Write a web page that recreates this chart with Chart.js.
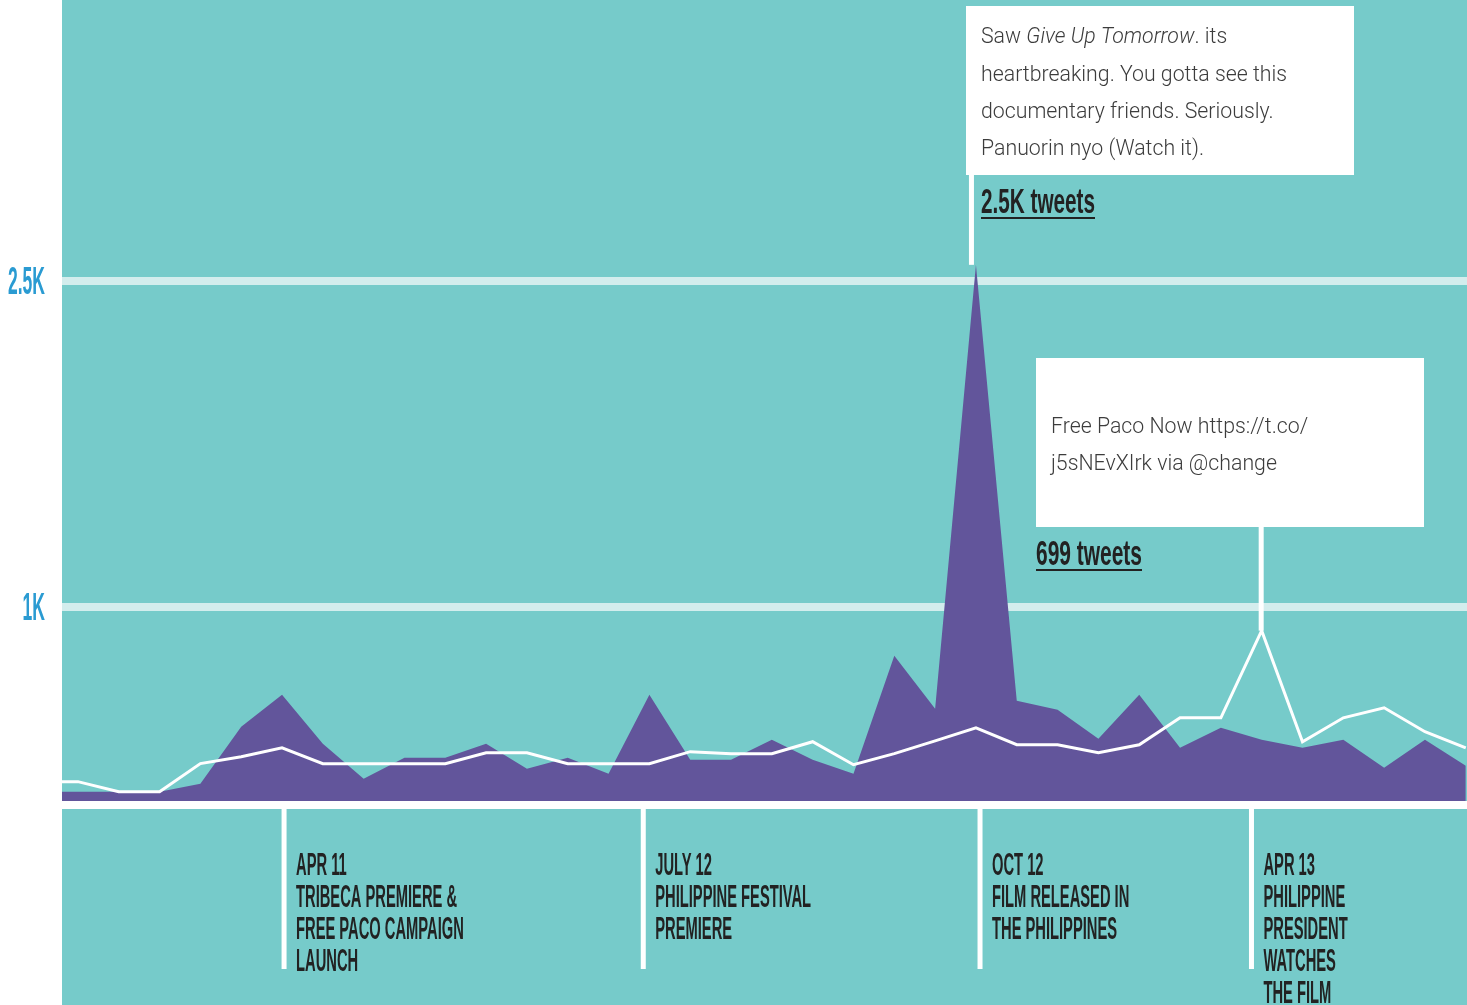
<!DOCTYPE html>
<html lang="en">
<head>
    <meta charset="UTF-8">
    <title>Give Up Tomorrow tweets</title>
    <script src="https://cdn.jsdelivr.net/npm/chart.js@4.4.1/dist/chart.umd.min.js"></script>
    <style>
        body {
            margin: 0;
            background-color: #ffffff;
        }
        canvas {
            display: block;
        }
    </style>
</head>
<body>
    <canvas id="tweetChart" width="1467" height="1005"></canvas>

    <script>
        // periods (index -1 is only partly visible at the left edge)
        const periods = [-1, 0, 1, 2, 3, 4, 5, 6, 7, 8, 9, 10, 11, 12, 13, 14, 15, 16, 17,
                         18, 19, 20, 21, 22, 23, 24, 25, 26, 27, 28, 29, 30, 31, 32, 33, 34];
        const tweets = [149, 149, 149, 149, 185, 448, 595, 370, 208, 305, 305, 370, 254, 305, 231, 595, 296, 296,
                        388, 296, 231, 775, 531, 2574, 567, 526, 393, 595, 351, 443, 388, 351, 388, 259, 388, 268];
        const trend = [195, 195, 149, 149, 278, 310, 351, 278, 278, 278, 278, 328, 328, 278, 278, 278, 333, 324,
                       324, 379, 273, 324, 383, 443, 365, 365, 328, 365, 489, 489, 890, 379, 489, 535, 425, 351];
        const yTicks = [1000, 2500];
        const yTickLabels = ['1K', '2.5K'];

        const events = [
            ['APR 11', 'TRIBECA PREMIERE &', 'FREE PACO CAMPAIGN', 'LAUNCH'],
            ['JULY 12', 'PHILIPPINE FESTIVAL', 'PREMIERE'],
            ['OCT 12', 'FILM RELEASED IN', 'THE PHILIPPINES'],
            ['APR 13', 'PHILIPPINE', 'PRESIDENT', 'WATCHES', 'THE FILM']
        ];
        const eventAt = [5.05, 13.85, 22.1, 28.75];

        const TEAL = '#76cbca';
        const PURPLE = '#62559b';
        const CONDENSED = "'Liberation Sans Narrow', 'Liberation Sans', sans-serif";
        const LIGHT = "Roboto, 'Open Sans', sans-serif";

        // squeeze a condensed-looking string so that refText gets refWidth pixels
        function squeezeFactor(ctx, font, refText, refWidth) {
            ctx.save();
            ctx.font = font;
            const w = ctx.measureText(refText).width;
            ctx.restore();
            return refWidth / w;
        }

        function squeezeText(ctx, text, x, y, font, sx, color, align) {
            ctx.save();
            ctx.font = font;
            ctx.fillStyle = color;
            ctx.textAlign = align || 'left';
            ctx.textBaseline = 'alphabetic';
            ctx.translate(x, y);
            ctx.scale(sx, 1);
            ctx.fillText(text, 0, 0);
            ctx.restore();
        }

        function drawRuns(ctx, runs, x, y) {
            runs.forEach(function(r) {
                ctx.font = r[1];
                ctx.fillText(r[0], x, y);
                x += ctx.measureText(r[0]).width;
            });
        }

        function callout(ctx, box, lines, pointX, pointY, label, labelX, labelY, labelW) {
            // stem from the box down to the point
            ctx.fillStyle = '#ffffff';
            ctx.fillRect(pointX - 3, box.y + box.h - 1, 5, pointY - box.y - box.h + 1);
            ctx.fillRect(box.x, box.y, box.w, box.h);

            ctx.fillStyle = '#3c3c3c';
            ctx.textAlign = 'left';
            ctx.textBaseline = 'alphabetic';
            lines.forEach(function(l) {
                drawRuns(ctx, l.runs, box.x + box.pad, l.y);
            });

            const f = 'bold 35px ' + CONDENSED;
            const sx = squeezeFactor(ctx, f, label, labelW);
            squeezeText(ctx, label, labelX, labelY, f, sx, '#222222');
            ctx.fillStyle = '#222222';
            ctx.fillRect(labelX, labelY + 4, labelW, 2);
        }

        const backdrop = {
            id: 'backdrop',
            beforeDraw(chart) {
                const ctx = chart.ctx;
                const a = chart.chartArea;
                const xs = chart.scales.x;
                ctx.save();
                ctx.fillStyle = '#ffffff';
                ctx.fillRect(0, 0, chart.width, chart.height);
                ctx.fillStyle = TEAL;
                ctx.fillRect(a.left, a.top, a.right - a.left, a.bottom - a.top);
                ctx.fillRect(a.left, a.bottom + 8, a.right - a.left, chart.height - a.bottom - 8);
                ctx.fillStyle = '#ffffff';
                eventAt.forEach(function(v) {
                    const px = xs.getPixelForValue(v);
                    ctx.fillRect(px - 2.5, a.bottom + 8, 5, 160);
                });
                ctx.restore();
            },
            afterDraw(chart) {
                const ctx = chart.ctx;
                const a = chart.chartArea;
                const xs = chart.scales.x;
                const ys = chart.scales.y;
                ctx.save();

                // y tick labels
                const tf = 'bold 38px ' + CONDENSED;
                const tsx = squeezeFactor(ctx, tf, '2.5K', 37);
                yTicks.forEach(function(v, i) {
                    squeezeText(ctx, yTickLabels[i], 45, ys.getPixelForValue(v) + 13, tf, tsx, '#2a9bd2', 'right');
                });

                // event labels under the chart
                const ef = 'bold 32px ' + CONDENSED;
                const esx = squeezeFactor(ctx, ef, 'TRIBECA PREMIERE &', 161);
                events.forEach(function(lines, k) {
                    const px = xs.getPixelForValue(eventAt[k]) + 12;
                    lines.forEach(function(t, j) {
                        squeezeText(ctx, t, px, a.bottom + 74 + j * 32, ef, esx, '#222222');
                    });
                });

                // callout for the tweet peak
                const pk = tweets.indexOf(Math.max.apply(null, tweets));
                const normal = '300 21.3px ' + LIGHT;
                const ital = 'italic 300 21.3px ' + LIGHT;
                callout(ctx, { x: 966, y: 6, w: 388, h: 169, pad: 15 }, [
                    { y: 43, runs: [['Saw ', normal], ['Give Up Tomorrow', ital], ['. its', normal]] },
                    { y: 80.5, runs: [['heartbreaking. You gotta see this', normal]] },
                    { y: 118, runs: [['documentary friends. Seriously.', normal]] },
                    { y: 155, runs: [['Panuorin nyo (Watch it).', normal]] }
                ], xs.getPixelForValue(periods[pk]) - 4, ys.getPixelForValue(tweets[pk]), '2.5K tweets', 981, 213, 114);

                // callout for the trend peak
                const tk = trend.indexOf(Math.max.apply(null, trend));
                callout(ctx, { x: 1036, y: 358, w: 388, h: 169, pad: 15 }, [
                    { y: 433, runs: [['Free Paco Now https://t.co/', normal]] },
                    { y: 470, runs: [['j5sNEvXIrk via @change', normal]] }
                ], xs.getPixelForValue(periods[tk]), ys.getPixelForValue(trend[tk]), '699 tweets', 1036, 565, 106);

                ctx.restore();
            }
        };

        const ctx = document.getElementById('tweetChart').getContext('2d');

        const tweetChart = new Chart(ctx, {
            type: 'line',
            data: {
                datasets: [{
                    label: 'Trend',
                    data: periods.map((p, i) => ({ x: p, y: trend[i] })),
                    borderColor: '#ffffff',
                    borderWidth: 3,
                    pointRadius: 0,
                    fill: false,
                    tension: 0,
                    order: 0
                }, {
                    label: 'Tweets',
                    data: periods.map((p, i) => ({ x: p, y: tweets[i] })),
                    borderWidth: 0,
                    borderColor: PURPLE,
                    backgroundColor: PURPLE,
                    pointRadius: 0,
                    fill: 'start',
                    tension: 0,
                    order: 1
                }]
            },
            options: {
                responsive: false,
                animation: false,
                events: [],
                layout: {
                    padding: { top: 0, right: 0, bottom: 204, left: 0 }
                },
                plugins: {
                    legend: { display: false },
                    tooltip: { enabled: false }
                },
                scales: {
                    x: {
                        type: 'linear',
                        display: false,
                        min: -0.39,
                        max: 34.03
                    },
                    y: {
                        type: 'linear',
                        min: 106,
                        max: 3793,
                        afterBuildTicks: function(scale) {
                            scale.ticks = yTicks.map(v => ({ value: v }));
                        },
                        afterFit: function(scale) {
                            scale.width = 62;
                        },
                        border: { display: false },
                        grid: {
                            color: '#d3eded',
                            lineWidth: 8,
                            drawTicks: false
                        },
                        ticks: { display: false }
                    }
                }
            },
            plugins: [backdrop]
        });
    </script>
</body>
</html>
